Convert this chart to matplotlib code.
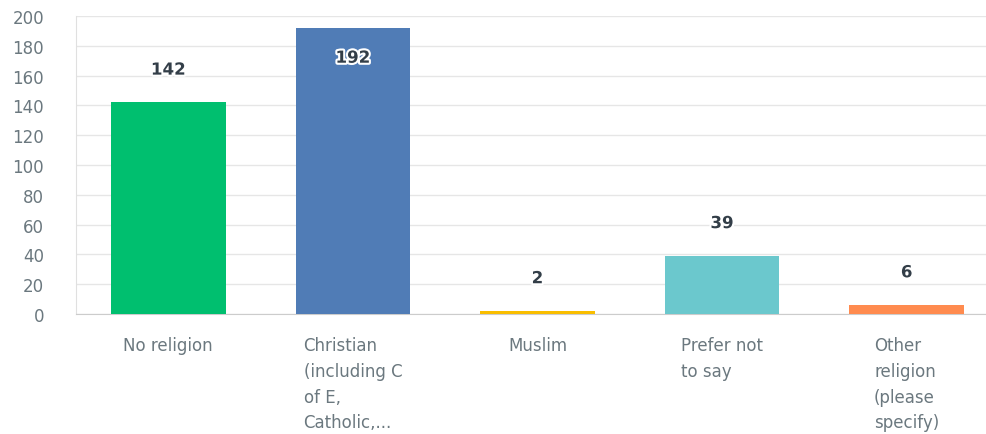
import matplotlib.pyplot as plt
import matplotlib.patheffects as pe

categories = ["No religion", "Christian\n(including C\nof E,\nCatholic,...",
              "Muslim", "Prefer not\nto say", "Other\nreligion\n(please\nspecify)"]
values = [142, 192, 2, 39, 6]
colors = ["#00BF6F", "#507CB6", "#F9BE00", "#6BC8CD", "#FF8B4F"]
yticks = list(range(0, 201, 20))

plt.rcParams['font.family'] = ['DejaVu Sans']

fig = plt.figure(figsize=(9.86, 4.35), dpi=100)
ax = fig.add_axes([76 / 986, 120 / 435, 910 / 986, 298 / 435])

x = list(range(len(values)))
ax.bar(x, values, width=0.62, color=colors, zorder=3)

# value labels, kept inside the plot when the bar is too tall
for xi, v in zip(x, values):
    y = min(v + 22, 172)
    ax.text(xi, y, str(v), ha="center", va="center", fontsize=12,
            fontweight="bold", color="#333E48", zorder=4,
            path_effects=[pe.withStroke(linewidth=3, foreground="white")])

ax.set_xlim(-0.5, 4.43)
ax.set_ylim(0, 200)
ax.set_yticks(yticks)
ax.tick_params(axis="y", length=0, pad=23, labelsize=12, labelcolor="#6B787F")
ax.set_xticks([])

ax.grid(axis="y", color="#E6E6E6", linewidth=1, zorder=0)
for side in ["top", "right"]:
    ax.spines[side].set_visible(False)
ax.spines["left"].set_color("#E0E0E0")
ax.spines["bottom"].set_color("#CCCCCC")

for xi, cat in zip(x, categories):
    ax.text(xi, -15, cat, ha="center", va="top", multialignment="left",
            fontsize=12, color="#6B787F", linespacing=1.55)

fig.savefig("out.png", dpi=100)
